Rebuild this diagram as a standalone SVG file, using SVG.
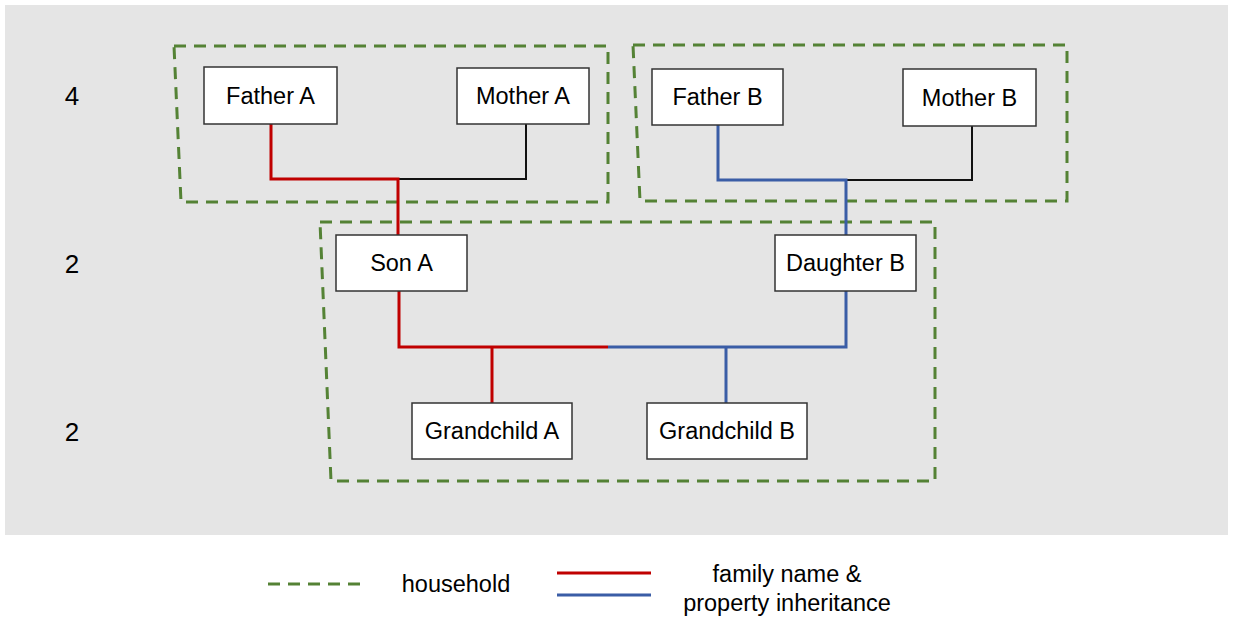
<svg xmlns="http://www.w3.org/2000/svg" width="1233" height="620" viewBox="0 0 1233 620">
<style>
.node rect{fill:#fff;stroke:#333;stroke-width:1.5}
text{font-family:"Liberation Sans",Arial,sans-serif;font-size:23.5px;fill:#000;text-anchor:middle;dominant-baseline:central}
.lvl{font-size:26px}
.hh{fill:none;stroke:#548235;stroke-width:3;stroke-dasharray:12 8}
.red{fill:none;stroke:#C00000;stroke-width:3}
.blue{fill:none;stroke:#3A5DA6;stroke-width:3}
.blk{fill:none;stroke:#111;stroke-width:2}
</style>
<rect x="5" y="5" width="1223" height="530" fill="#E5E5E5"/>
<g id="households">
<path class="hh" d="M174,46 L608,46 L608,202 L181,202 Z"/>
<path class="hh" d="M633,45 L1067,45 L1067,201 L640,201 Z"/>
<path class="hh" d="M320,222 L935,222 L935,481 L331,481 Z"/>
</g>
<g id="levels">
<text class="lvl" x="72" y="96">4</text>
<text class="lvl" x="72" y="264">2</text>
<text class="lvl" x="72" y="432">2</text>
</g>
<g id="connectors">
<path class="blk" d="M398,179 L526,179 L526,124"/>
<path class="red" d="M271,124 L271,179 L398,179 L398,235"/>
<path class="blk" d="M846,180 L972,180 L972,126"/>
<path class="blue" d="M718,125 L718,180 L846,180 L846,235"/>
<path class="red" d="M399,291 L399,347 L608,347"/>
<path class="blue" d="M608,347 L846,347 L846,291"/>
<path class="red" d="M492,347 L492,403"/>
<path class="blue" d="M726,347 L726,403"/>
</g>
<g id="father-a" class="node"><rect x="204" y="67" width="133" height="57"/><text x="270.5" y="96">Father A</text></g>
<g id="mother-a" class="node"><rect x="457" y="68" width="132" height="56"/><text x="523" y="96">Mother A</text></g>
<g id="father-b" class="node"><rect x="652" y="69" width="131" height="56"/><text x="717.5" y="97">Father B</text></g>
<g id="mother-b" class="node"><rect x="903" y="69" width="133" height="57"/><text x="969.5" y="97.5">Mother B</text></g>
<g id="son-a" class="node"><rect x="336" y="235" width="131" height="56"/><text x="401.5" y="263">Son A</text></g>
<g id="daughter-b" class="node"><rect x="775" y="235" width="141" height="56"/><text x="845.5" y="263">Daughter B</text></g>
<g id="grandchild-a" class="node"><rect x="412" y="403" width="160" height="56"/><text x="492" y="431">Grandchild A</text></g>
<g id="grandchild-b" class="node"><rect x="647" y="403" width="160" height="56"/><text x="727" y="431">Grandchild B</text></g>
<g id="legend">
<line class="hh" x1="268" y1="584" x2="364" y2="584"/>
<text x="456" y="584">household</text>
<line class="red" x1="557" y1="573" x2="651" y2="573"/>
<line class="blue" x1="557" y1="595" x2="651" y2="595"/>
<text x="787" y="574">family name &amp;</text>
<text x="787" y="603">property inheritance</text>
</g>
</svg>
